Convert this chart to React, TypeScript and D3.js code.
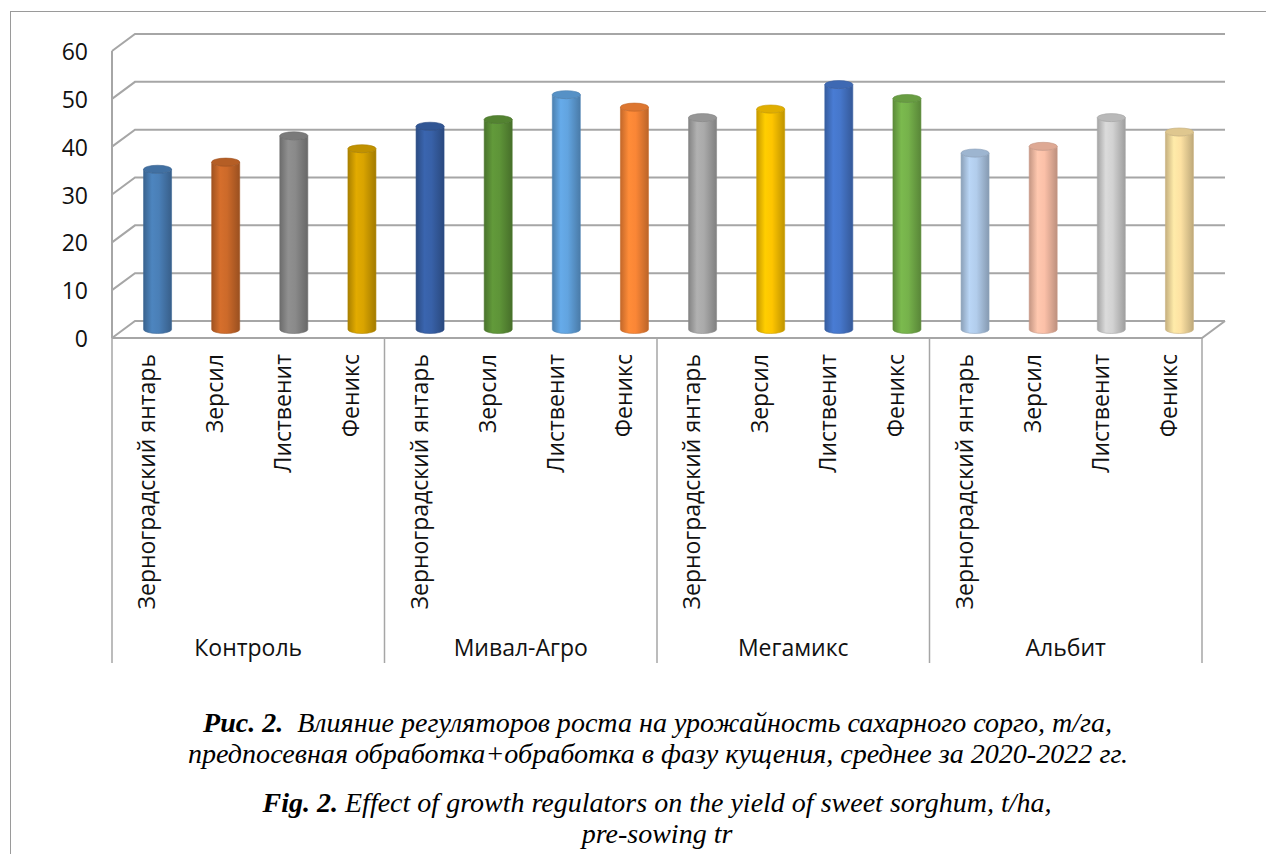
import React from "react";
import * as d3 from "d3";

const groups = ["Контроль", "Мивал-Агро", "Мегамикс", "Альбит"];
const preparations = ["Зерноградский янтарь", "Зерсил", "Лиственит", "Феникс"];
const controlValues = [33.5, 35.0, 40.5, 37.8];
const mivalValues = [42.5, 43.9, 49.1, 46.5];
const megamixValues = [44.3, 46.1, 51.2, 48.3];
const albitValues = [36.9, 38.3, 44.3, 41.3];
const barColors = [
  "#4a7fb7", "#cd6a2a", "#8a8a8a", "#d9a400",
  "#3861a8", "#5e9438", "#62a4e0", "#fa8636",
  "#aaaaaa", "#fec500", "#4677cb", "#76b24b",
  "#b2cdec", "#fbc0a8", "#d2d2d2", "#fde1a2",
];
const yTicks = [0, 10, 20, 30, 40, 50, 60];
const captionRu1Bold = "Рис. 2.";
const captionRu1 = "\u00a0\u00a0Влияние регуляторов роста на урожайность сахарного сорго, т/га,";
const captionRu2 = "предпосевная обработка+обработка в фазу кущения, среднее за 2020-2022 гг.";
const captionEn1Bold = "Fig. 2.";
const captionEn1 = " Effect of growth regulators on the yield of sweet sorghum, t/ha,";
const captionEn2 = "pre-sowing tr";

const allValues = [controlValues, mivalValues, megamixValues, albitValues];
const bars = groups.flatMap((g, gi) =>
  preparations.map((p, pi) => ({ group: g, prep: p, value: allValues[gi][pi], idx: gi * 4 + pi }))
);

const W = 1266;
const H = 854;
const DX = 23;
const DY = 17;
const LEFT = 112;
const RIGHT = 1202;
const GRID = "#a6a6a6";
const SANS = "'Open Sans', 'Noto Sans', sans-serif";
const serifStyle = { fontFamily: "'Liberation Serif', 'Times New Roman', 'DejaVu Serif', serif", fontStyle: "italic" as const };

export default function App() {
  const x = d3.scaleBand<number>().domain(d3.range(bars.length)).range([LEFT, RIGHT]).padding(0);
  const gx = d3.scaleBand<string>().domain(groups).range([LEFT, RIGHT]).padding(0);
  const y = d3.scaleLinear().domain([0, 60]).range([321, 34]);
  const bw = x.bandwidth();
  const rx = 14;
  const ry = 4;
  const sepBottom = 663;

  return (
    <svg width={W} height={H} style={{ position: "absolute", left: 0, top: 0, background: "#fff" }}>
      <defs>
        {bars.map((b) => {
          const c = d3.color(barColors[b.idx])!;
          return (
            <linearGradient key={b.idx} id={`g${b.idx}`} x1="0" x2="1" y1="0" y2="0">
              <stop offset="0" stopColor={c.darker(0.7).formatHex()} />
              <stop offset="0.3" stopColor={c.brighter(0.12).formatHex()} />
              <stop offset="0.55" stopColor={c.formatHex()} />
              <stop offset="1" stopColor={c.darker(0.8).formatHex()} />
            </linearGradient>
          );
        })}
      </defs>

      {/* outer frame */}
      <line x1={10.5} y1={11} x2={10.5} y2={H} stroke="#9a9a9a" strokeWidth={1} />
      <line x1={10} y1={11.5} x2={W} y2={11.5} stroke="#9a9a9a" strokeWidth={1} />

      {/* back wall gridlines + side wall diagonals */}
      {yTicks.map((t) => (
        <polyline
          key={t}
          points={`${LEFT},${y(t) + DY} ${LEFT + DX},${y(t)} ${RIGHT + DX},${y(t)}`}
          fill="none"
          stroke={GRID}
          strokeWidth={2}
        />
      ))}
      <line x1={LEFT} y1={y(60) + DY} x2={LEFT} y2={y(0) + DY} stroke={GRID} strokeWidth={2} />
      <polyline
        points={`${LEFT},${y(0) + DY} ${RIGHT},${y(0) + DY} ${RIGHT + DX},${y(0)}`}
        fill="none"
        stroke={GRID}
        strokeWidth={2}
      />

      {/* y tick labels */}
      {yTicks.map((t) => (
        <text
          key={t}
          x={88}
          y={y(t) + DY}
          textAnchor="end"
          dominantBaseline="central"
          fontFamily={SANS}
          fontSize={23}
          fill="#111"
        >
          {t}
        </text>
      ))}

      {/* cylinders */}
      {bars.map((b) => {
        const cx = (x(b.idx) as number) + bw / 2 + DX / 2;
        const base = y(0) + DY / 2;
        const top = y(b.value) + DY / 2;
        const c = d3.color(barColors[b.idx])!;
        const d = `M${cx - rx},${top} L${cx - rx},${base} A${rx},${ry} 0 0 0 ${cx + rx},${base} L${cx + rx},${top} A${rx},${ry} 0 0 1 ${cx - rx},${top} Z`;
        return (
          <g key={b.idx}>
            <path d={d} fill={`url(#g${b.idx})`} stroke={c.darker(0.6).formatHex()} strokeWidth={0.6} />
            <ellipse
              cx={cx}
              cy={top}
              rx={rx}
              ry={ry}
              fill={c.darker(0.35).formatHex()}
              stroke={c.darker(0.7).formatHex()}
              strokeWidth={0.6}
            />
          </g>
        );
      })}

      {/* group separators */}
      {[...groups.map((g) => gx(g) as number), RIGHT].map((sx, i) => (
        <line key={i} x1={sx} y1={y(0) + DY} x2={sx} y2={sepBottom} stroke={GRID} strokeWidth={1.5} />
      ))}

      {/* category labels (rotated) */}
      {bars.map((b) => {
        const cx = (x(b.idx) as number) + bw / 2;
        return (
          <text
            key={b.idx}
            transform={`translate(${cx},354) rotate(-90)`}
            textAnchor="end"
            dominantBaseline="central"
            fontFamily={SANS}
            fontSize={23}
            fill="#111"
          >
            {b.prep}
          </text>
        );
      })}

      {/* group labels */}
      {groups.map((g) => (
        <text
          key={g}
          x={(gx(g) as number) + gx.bandwidth() / 2}
          y={647}
          textAnchor="middle"
          dominantBaseline="central"
          fontFamily={SANS}
          fontSize={23}
          fill="#111"
        >
          {g}
        </text>
      ))}

      {/* captions */}
      <text
        x={657.5}
        y={731.5}
        textAnchor="middle"
        style={serifStyle}
        fontSize={28}
        fill="#000"
        textLength={909}
        lengthAdjust="spacingAndGlyphs"
      >
        <tspan fontWeight="bold">{captionRu1Bold}</tspan>
        <tspan>{captionRu1}</tspan>
      </text>
      <text
        x={658}
        y={763}
        textAnchor="middle"
        style={serifStyle}
        fontSize={28}
        fill="#000"
        textLength={940}
        lengthAdjust="spacingAndGlyphs"
      >
        {captionRu2}
      </text>
      <text
        x={657}
        y={811.5}
        textAnchor="middle"
        style={serifStyle}
        fontSize={28}
        fill="#000"
        textLength={789}
        lengthAdjust="spacingAndGlyphs"
      >
        <tspan fontWeight="bold">{captionEn1Bold}</tspan>
        <tspan>{captionEn1}</tspan>
      </text>
      <text x={657} y={843} textAnchor="middle" style={serifStyle} fontSize={28} fill="#000">
        {captionEn2}
      </text>
    </svg>
  );
}
